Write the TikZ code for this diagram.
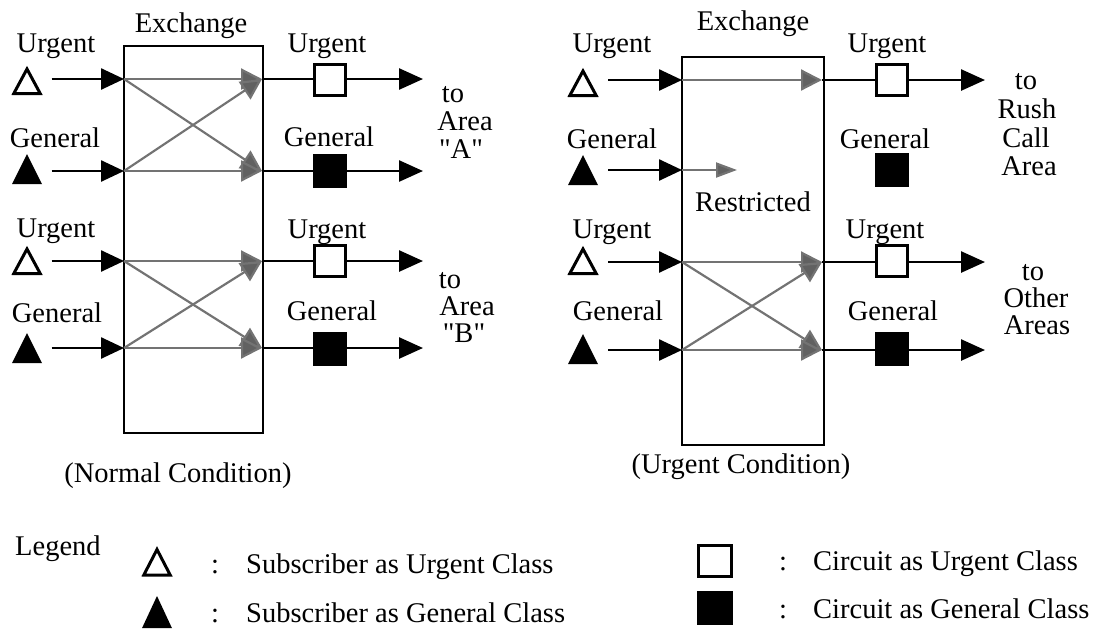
\documentclass[tikz,border=0pt]{standalone}
\usepackage{fontspec}
\setmainfont{Liberation Serif}[Ligatures=TeXOff]
\usetikzlibrary{arrows.meta}

\tikzset{
  lbl/.style={anchor=base, inner sep=0pt, font=\fontsize{28.5}{30}\selectfont},
  lblw/.style={anchor=base west, inner sep=0pt, font=\fontsize{28.5}{30}\selectfont},
  % triangles: subscribers
  subtri/.style={minimum width=31pt, minimum height=31pt, inner sep=0pt, outer sep=0pt},
  urgtri/.style={subtri, path picture={
      \draw[line width=3pt, line join=miter]
        ([shift={(2.2pt,1.8pt)}]path picture bounding box.south west) --
        ([shift={(-2.2pt,1.8pt)}]path picture bounding box.south east) --
        ([yshift=-4.5pt]path picture bounding box.north) -- cycle;}},
  gentri/.style={subtri, path picture={
      \fill
        ([shift={(0.5pt,0.3pt)}]path picture bounding box.south west) --
        ([shift={(-0.5pt,0.3pt)}]path picture bounding box.south east) --
        ([yshift=-0.5pt]path picture bounding box.north) -- cycle;}},
  % squares: circuits
  urgsq/.style={draw, line width=2.6pt, fill=white, minimum size=31pt, inner sep=0pt},
  gensq/.style={draw, line width=2.6pt, fill=black, minimum size=31pt, inner sep=0pt},
  % exchange frame
  exbox/.style={draw, line width=2.8pt, inner sep=0pt},
  % connectors
  wire/.style={line width=2.6pt},
  inarr/.style={wire, -{Triangle[length=23pt, width=21pt]}},
  outarr/.style={wire, -{Triangle[length=24pt, width=21pt]}},
  swarr/.style={line width=2.2pt, draw=black!55, -{Triangle[length=21pt, width=21pt, fill=black!62]}},
  rsarr/.style={line width=2.2pt, draw=black!55, -{Triangle[length=21pt, width=15pt, fill=black!62]}},
}

\begin{document}
\begin{tikzpicture}[x=1pt, y=-1pt, line cap=butt]
\useasboundingbox (0,0) rectangle (1109,633);

% ---------------- Normal condition ----------------
\node[exbox, minimum width=139pt, minimum height=387pt] (exL) at (193.5,239.5) {};
\node[lbl] (exLt) at (191,32) {Exchange};

% switching points on the frame
\coordinate (aLi) at (124,79);  \coordinate (aLo) at (262,79);
\coordinate (bLi) at (124,171); \coordinate (bLo) at (262,171);
\coordinate (cLi) at (124,261); \coordinate (cLo) at (262,261);
\coordinate (dLi) at (124,348); \coordinate (dLo) at (262,348);

% subscribers
\node[lbl] (uLa) at (56,52) {Urgent};
\node[urgtri] (tLa) at (27,80) {};
\node[lbl] (gLb) at (55,147) {General};
\node[gentri] (tLb) at (27,169) {};
\node[lbl] (uLc) at (56,237) {Urgent};
\node[urgtri] (tLc) at (27,260) {};
\node[lbl] (gLd) at (57,322) {General};
\node[gentri] (tLd) at (27,348) {};

\draw[inarr] ([xshift=9pt]tLa.east |- aLi) -- (aLi);
\draw[inarr] ([xshift=9pt]tLb.east |- bLi) -- (bLi);
\draw[inarr] ([xshift=9pt]tLc.east |- cLi) -- (cLi);
\draw[inarr] ([xshift=9pt]tLd.east |- dLi) -- (dLi);

% switching paths
\draw[swarr] (aLi) -- (aLo);
\draw[swarr] (aLi) -- (bLo);
\draw[swarr] (bLi) -- (aLo);
\draw[swarr] (bLi) -- (bLo);
\draw[swarr] (cLi) -- (cLo);
\draw[swarr] (cLi) -- (dLo);
\draw[swarr] (dLi) -- (cLo);
\draw[swarr] (dLi) -- (dLo);

% circuits
\node[lbl] (uLo1) at (327,52) {Urgent};
\node[urgsq] (sLa) at (330,80) {};
\node[lbl] (gLo1) at (329,146) {General};
\node[gensq] (sLb) at (330,171) {};
\node[lbl] (uLo2) at (327,238) {Urgent};
\node[urgsq] (sLc) at (330,261) {};
\node[lbl] (gLo2) at (332,320) {General};
\node[gensq] (sLd) at (330,349) {};

\coordinate (eLa) at (423,79);  \coordinate (eLb) at (423,171);
\coordinate (eLc) at (423,261); \coordinate (eLd) at (423,348);

\draw[wire] (aLo) -- (sLa.west |- aLo);
\draw[wire] (bLo) -- (sLb.west |- bLo);
\draw[wire] (cLo) -- (sLc.west |- cLo);
\draw[wire] (dLo) -- (sLd.west |- dLo);
\draw[outarr] (sLa.east |- eLa) -- (eLa);
\draw[outarr] (sLb.east |- eLb) -- (eLb);
\draw[outarr] (sLc.east |- eLc) -- (eLc);
\draw[outarr] (sLd.east |- eLd) -- (eLd);

\node[lbl] (toA1) at (453,102) {to};
\node[lbl] (toA2) at (465,130) {Area};
\node[lbl] (toA3) at (461,158) {"A"};
\node[lbl] (toB1) at (450,288) {to};
\node[lbl] (toB2) at (467,315) {Area};
\node[lbl] (toB3) at (464,342) {"B"};

\node[lbl] (capL) at (178,482) {(Normal Condition)};

% ---------------- Urgent condition ----------------
\node[exbox, minimum width=142pt, minimum height=388pt] (exR) at (753,251) {};
\node[lbl] (exRt) at (753,30) {Exchange};

\coordinate (aRi) at (682,80);  \coordinate (aRo) at (822,80);
\coordinate (bRi) at (682,170); \coordinate (bRr) at (737,170);
\coordinate (cRi) at (682,262); \coordinate (cRo) at (822,262);
\coordinate (dRi) at (682,350); \coordinate (dRo) at (822,350);

\node[lbl] (uRa) at (612,52) {Urgent};
\node[urgtri] (tRa) at (583,82) {};
\node[lbl] (gRb) at (612,148) {General};
\node[gentri] (tRb) at (583,170) {};
\node[lbl] (uRc) at (612,238) {Urgent};
\node[urgtri] (tRc) at (583,260) {};
\node[lbl] (gRd) at (618,320) {General};
\node[gentri] (tRd) at (583,349) {};

\draw[inarr] ([xshift=9.5pt]tRa.east |- aRi) -- (aRi);
\draw[inarr] ([xshift=9.5pt]tRb.east |- bRi) -- (bRi);
\draw[inarr] ([xshift=9.5pt]tRc.east |- cRi) -- (cRi);
\draw[inarr] ([xshift=9.5pt]tRd.east |- dRi) -- (dRi);

\draw[swarr] (aRi) -- (aRo);
\draw[rsarr] (bRi) -- (bRr);
\node[lbl] (rst) at (753,211) {Restricted};
\draw[swarr] (cRi) -- (cRo);
\draw[swarr] (cRi) -- (dRo);
\draw[swarr] (dRi) -- (cRo);
\draw[swarr] (dRi) -- (dRo);

\node[lbl] (uRo1) at (887,52) {Urgent};
\node[urgsq] (sRa) at (892,80) {};
\node[lbl] (gRo1) at (885,148) {General};
\node[gensq] (sRb) at (892,170) {};
\node[lbl] (uRo2) at (885,238) {Urgent};
\node[urgsq] (sRc) at (892,261) {};
\node[lbl] (gRo2) at (893,320) {General};
\node[gensq] (sRd) at (892,349) {};

\coordinate (eRa) at (985,80);
\coordinate (eRc) at (985,262);
\coordinate (eRd) at (985,350);

\draw[wire] (aRo) -- (sRa.west |- aRo);
\draw[wire] (cRo) -- (sRc.west |- cRo);
\draw[wire] (dRo) -- (sRd.west |- dRo);
\draw[outarr] (sRa.east |- eRa) -- (eRa);
\draw[outarr] (sRc.east |- eRc) -- (eRc);
\draw[outarr] (sRd.east |- eRd) -- (eRd);

\node[lbl] (toR1) at (1026,89) {to};
\node[lbl] (toR2) at (1027,118) {Rush};
\node[lbl] (toR3) at (1026,147) {Call};
\node[lbl] (toR4) at (1029,175) {Area};
\node[lbl] (toO1) at (1033,280) {to};
\node[lbl] (toO2) at (1036,307) {Other};
\node[lbl] (toO3) at (1037,334) {Areas};

\node[lbl] (capR) at (741,473) {(Urgent Condition)};

% ---------------- Legend ----------------
\node[lblw] (leg) at (15,555) {Legend};
\node[urgtri, minimum width=31pt, minimum height=32pt] (lgU) at (157,561) {};
\node[gentri, minimum width=31pt, minimum height=33pt] (lgG) at (157,612) {};
\node[lbl] (lcU) at (215,573) {:};
\node[lbl] (lcG) at (215,622) {:};
\node[lblw] (ltU) at (246,573) {Subscriber as Urgent Class};
\node[lblw] (ltG) at (246,622) {Subscriber as General Class};

\node[urgsq, minimum width=33pt, minimum height=31pt] (lsU) at (715,561) {};
\node[gensq, minimum width=33pt, minimum height=32pt] (lsG) at (715,608) {};
\node[lbl] (lcU2) at (783,570) {:};
\node[lbl] (lcG2) at (783,618) {:};
\node[lblw] (ltU2) at (813,570) {Circuit as Urgent Class};
\node[lblw] (ltG2) at (813,618) {Circuit as General Class};
\end{tikzpicture}
\end{document}
